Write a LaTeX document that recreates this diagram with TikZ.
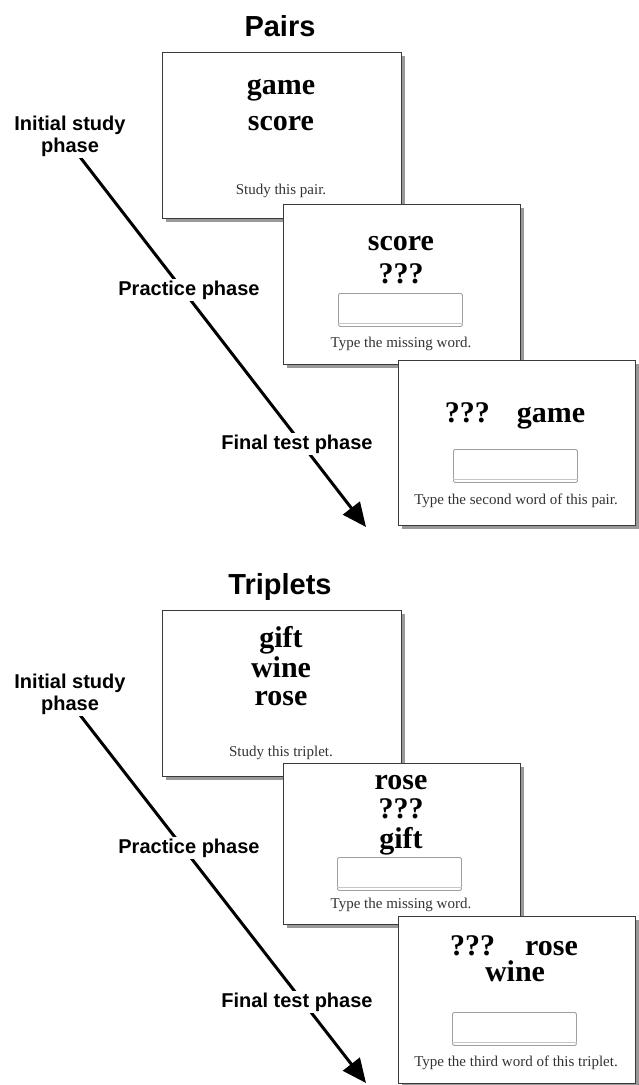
\documentclass[tikz,border=0pt]{standalone}
\usepackage{fontspec}
\setmainfont{Liberation Serif}
\newfontfamily\labfont{Liberation Sans}
\usetikzlibrary{arrows.meta,shadows}
\definecolor{frame}{HTML}{3A3A3A}
\definecolor{instr}{HTML}{333333}
\begin{document}
\begin{tikzpicture}[x=1pt,y=-1pt,
 screen/.style={draw=frame, line width=1.4pt, fill=white, anchor=north west, inner sep=0pt,
   drop shadow={shadow xshift=3.5pt, shadow yshift=-3.5pt, opacity=0.4, fill=black}},
 big/.style={font=\fontsize{30}{30}\selectfont\bfseries, anchor=base, inner sep=0pt},
 small/.style={font=\fontsize{15}{15}\selectfont, text=instr, anchor=base, inner sep=0pt},
 lab/.style={font=\labfont\fontsize{20}{20}\selectfont\bfseries, anchor=base, fill=white, inner sep=1.5pt},
 ttl/.style={font=\labfont\fontsize{29}{29}\selectfont\bfseries, anchor=base, inner sep=0pt},
 inbox/.style={draw=gray!75, line width=0.9pt, rounded corners=2pt, fill=white, anchor=north west,
   inner sep=0pt, minimum width=124pt, minimum height=33pt},
 inbar/.style={draw=gray!45, line width=0.7pt},
 arr/.style={line width=3pt, -{Triangle[length=24pt,width=21pt]}}
]
\useasboundingbox (0,0) rectangle (639,1085);
\fill[white] (0,0) rectangle (639,1085);

% ================= Pairs =================
\node[ttl] (t1) at (280,36) {Pairs};

\coordinate (a1s) at (80,157);
\coordinate (a1e) at (366,527);
\draw[arr] (a1s) -- (a1e);

\node[screen, minimum width=239pt, minimum height=166pt] (s1) at (162,52) {};
\node[big] (s1a) at (281,94) {game};
\node[big] (s1b) at (281,130) {score};
\node[small] (s1c) at (281,194) {Study this pair.};

\node[screen, minimum width=237pt, minimum height=160pt] (s2) at (283,204) {};
\node[big] (s2a) at (401,250) {score};
\node[big] (s2b) at (401,283) {???};
\node[inbox] (s2in) at (338,293) {};
\draw[inbar] ([yshift=4pt]s2in.south west) -- ([yshift=4pt]s2in.south east);
\node[small] (s2c) at (401,347) {Type the missing word.};

\node[screen, minimum width=237pt, minimum height=165pt] (s3) at (398,360) {};
\node[big] (s3a) at (515,422) {???\hspace{27pt}game};
\node[inbox] (s3in) at (453,449) {};
\draw[inbar] ([yshift=4pt]s3in.south west) -- ([yshift=4pt]s3in.south east);
\node[small] (s3c) at (516,504) {Type the second word of this pair.};

\node[lab] (l1a) at (70,130) {Initial study};
\node[lab] (l1b) at (70,152) {phase};
\node[lab] (l1p) at (189,295) {Practice phase};
\node[lab] (l1f) at (297,449) {Final test phase};

% ================= Triplets =================
\node[ttl] (t2) at (280,594) {Triplets};

\coordinate (a2s) at (80,715);
\coordinate (a2e) at (366,1083);
\draw[arr] (a2s) -- (a2e);

\node[screen, minimum width=239pt, minimum height=166pt] (s4) at (162,610) {};
\node[big] (s4a) at (281,647) {gift};
\node[big] (s4b) at (281,677) {wine};
\node[big] (s4c) at (281,705) {rose};
\node[small] (s4d) at (281,756) {Study this triplet.};

\node[screen, minimum width=237pt, minimum height=161pt] (s5) at (283,763) {};
\node[big] (s5a) at (401,789) {rose};
\node[big] (s5b) at (401,818) {???};
\node[big] (s5c) at (401,848) {gift};
\node[inbox] (s5in) at (337,857) {};
\draw[inbar] ([yshift=4pt]s5in.south west) -- ([yshift=4pt]s5in.south east);
\node[small] (s5d) at (401,908) {Type the missing word.};

\node[screen, minimum width=237pt, minimum height=167pt] (s6) at (398,916) {};
\node[big] (s6a) at (514,955) {???\hspace{30pt}rose};
\node[big] (s6b) at (515,981) {wine};
\node[inbox] (s6in) at (452,1012) {};
\draw[inbar] ([yshift=4pt]s6in.south west) -- ([yshift=4pt]s6in.south east);
\node[small] (s6c) at (516,1066) {Type the third word of this triplet.};

\node[lab] (l2a) at (70,688) {Initial study};
\node[lab] (l2b) at (70,710) {phase};
\node[lab] (l2p) at (189,853) {Practice phase};
\node[lab] (l2f) at (297,1007) {Final test phase};
\end{tikzpicture}
\end{document}
